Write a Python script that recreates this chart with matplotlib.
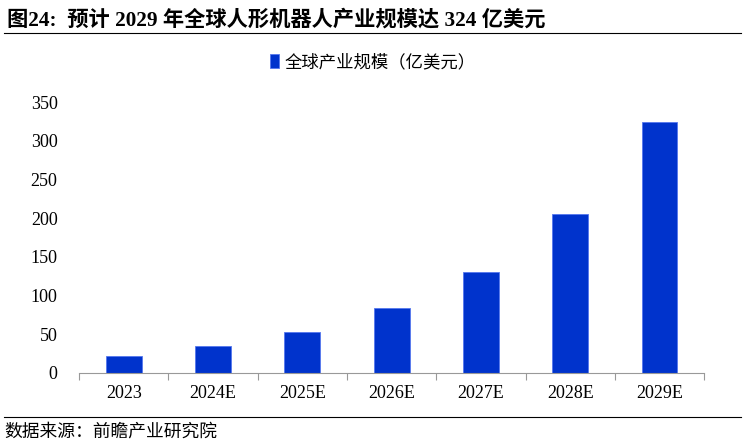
import matplotlib
matplotlib.use("Agg")
import matplotlib.pyplot as plt
from matplotlib.lines import Line2D
import numpy as np

plt.rcParams['font.family'] = ['Liberation Serif', 'Noto Sans CJK SC']

years = ["2023", "2024E", "2025E", "2026E", "2027E", "2028E", "2029E"]
market_size = [22, 34.5, 53, 84, 131, 206, 324]
series_name = "全球产业规模（亿美元）"
title = "图24:  预计 2029 年全球人形机器人产业规模达 324 亿美元"
source = "数据来源：前瞻产业研究院"

BAR_COLOR = "#0033CC"

fig = plt.figure(figsize=(7.46, 4.44), dpi=100)
ax = fig.add_axes([0.106, 0.16, 0.838, 0.61])

x = np.arange(len(years))
ax.bar(x, market_size, width=0.4, color=BAR_COLOR, edgecolor="#5577EE",
       linewidth=0.6, label=series_name)

ax.set_xlim(-0.5, len(years) - 0.5)
ax.set_ylim(0, 350)
ax.set_yticks(range(0, 351, 50))
ax.set_xticks(x)
ax.set_xticklabels(years)
ax.set_xticks(np.arange(-0.5, len(years), 1), minor=True)
ax.tick_params(axis="x", which="major", length=0, pad=9, labelsize=13)
ax.tick_params(axis="x", which="minor", length=5, color="#999999", width=0.8)
ax.tick_params(axis="y", length=0, pad=15.5, labelsize=13)
for side in ["top", "right", "left"]:
    ax.spines[side].set_visible(False)
ax.spines["bottom"].set_color("#999999")
ax.spines["bottom"].set_linewidth(0.8)

fig.legend(loc="center", bbox_to_anchor=(0.5, 0.86), frameon=False,
           handlelength=0.5, handleheight=0.9, handletextpad=0.35,
           prop={"family": ["Noto Sans CJK SC"], "size": 12.5})

fig.text(0.01, 0.955, title, fontsize=15.3, fontweight="bold", va="center",
         ha="left")
fig.add_artist(Line2D([0.005, 0.993], [0.925, 0.925], color="black",
                      linewidth=0.8, transform=fig.transFigure))
fig.add_artist(Line2D([0.005, 0.993], [0.061, 0.061], color="black",
                      linewidth=0.8, transform=fig.transFigure))
fig.text(0.006, 0.027, source, fontsize=12.8, va="center", ha="left",
         family=["Noto Sans CJK SC"])

fig.savefig("out.png", dpi=100)
